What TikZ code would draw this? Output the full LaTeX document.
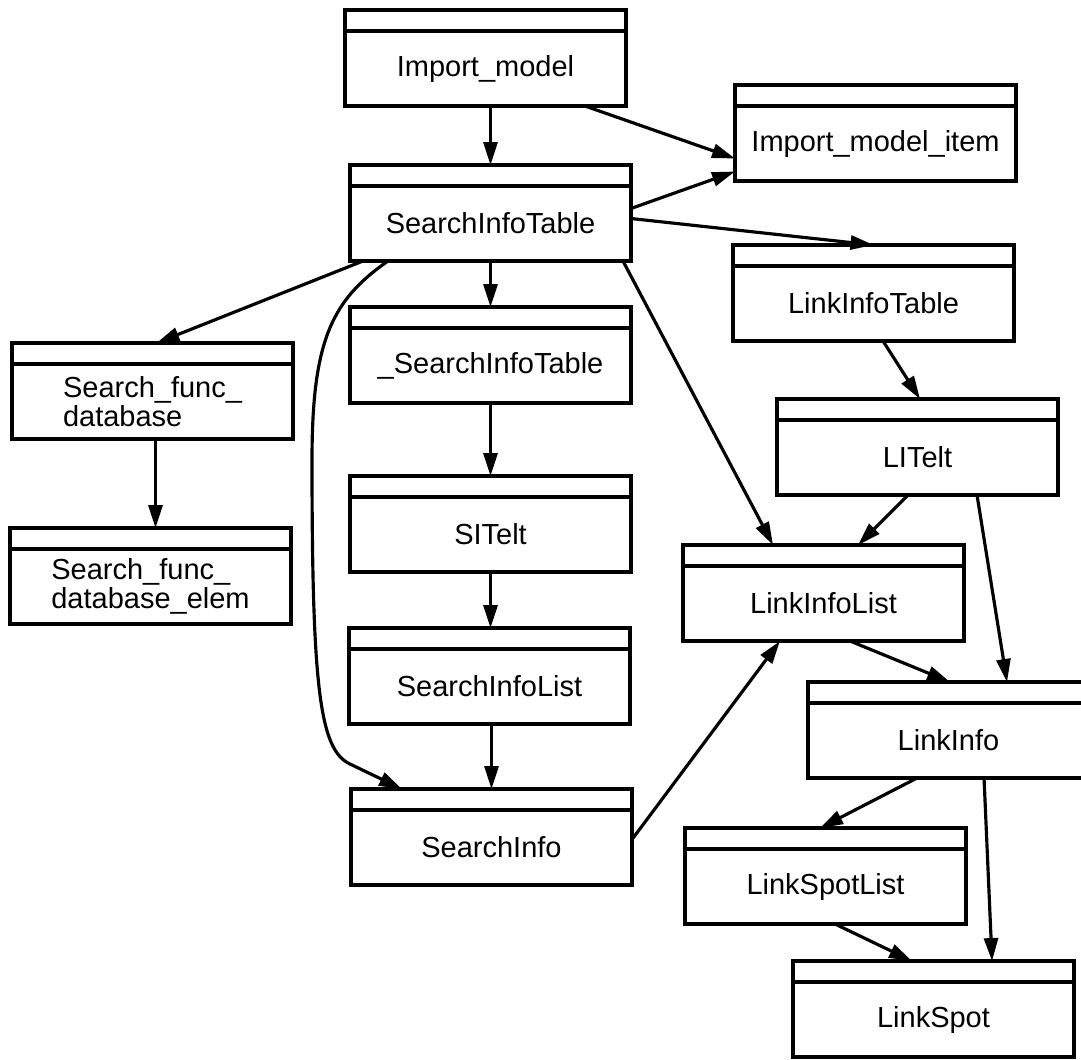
\documentclass[tikz,border=0pt]{standalone}
\usepackage{fontspec}
\setmainfont{Liberation Sans}
\usetikzlibrary{positioning,calc,arrows.meta}

\tikzset{
  cls/.style={draw, line width=2pt, minimum width=5.62cm, minimum height=1.5cm,
    inner sep=0pt, outer sep=0pt, align=center, font=\fontsize{16.5}{15}\selectfont},
  hdr/.style={draw, line width=2pt, minimum width=5.62cm, minimum height=0.42cm,
    inner sep=0pt, outer sep=0pt},
  arr/.style={line width=1.8pt, -{Triangle[length=0.46cm,width=0.28cm]}}
}

\begin{document}
\begin{tikzpicture}[x=0.02cm, y=-0.02cm]
\useasboundingbox (0,0) rectangle (1081,1059);
\clip (0,0) rectangle (1081,1059);

% class boxes
\node[cls] (imp) at (485.5,68.5) {Import\_model};
\node[hdr, above=0pt of imp] (imph) {};
\node[cls] (item) at (875.5,143.5) {Import\_model\_item};
\node[hdr, above=0pt of item] (itemh) {};
\node[cls] (sit) at (490.5,223.5) {SearchInfoTable};
\node[hdr, above=0pt of sit] (sith) {};
\node[cls] (lit) at (873.5,303.5) {LinkInfoTable};
\node[hdr, above=0pt of lit] (lith) {};
\node[cls, align=left] (sfd) at (152.5,401.5) {Search\_func\_\\database};
\node[hdr, above=0pt of sfd] (sfdh) {};
\node[cls] (usit) at (490.5,365.5) {\_SearchInfoTable};
\node[hdr, above=0pt of usit] (usith) {};
\node[cls] (litelt) at (917.5,457.5) {LITelt};
\node[hdr, above=0pt of litelt] (litelth) {};
\node[cls] (sitelt) at (490.5,534.5) {SITelt};
\node[hdr, above=0pt of sitelt] (sitelth) {};
\node[cls, align=left] (sfde) at (150.5,586.5) {Search\_func\_\\database\_elem};
\node[hdr, above=0pt of sfde] (sfdeh) {};
\node[cls] (lil) at (823.5,603.5) {LinkInfoList};
\node[hdr, above=0pt of lil] (lilh) {};
\node[cls] (sil) at (489.5,686.5) {SearchInfoList};
\node[hdr, above=0pt of sil] (silh) {};
\node[cls] (li) at (948.5,740.5) {LinkInfo};
\node[hdr, above=0pt of li] (lih) {};
\node[cls] (si) at (491.5,847.5) {SearchInfo};
\node[hdr, above=0pt of si] (sih) {};
\node[cls] (lsl) at (825.5,886.5) {LinkSpotList};
\node[hdr, above=0pt of lsl] (lslh) {};
\node[cls] (ls) at (933.5,1019.5) {LinkSpot};
\node[hdr, above=0pt of ls] (lsh) {};

% links
\draw[arr] (imp.south -| sith.north) -- (sith.north);
\draw[arr] ($(imp.south east)+(-41,0)$) -- ($(item.west)+(0,15)$);
\draw[arr] ($(sit.east)+(0,-15)$) -- ($(item.west)+(0,28)$);
\draw[arr] ($(sit.east)+(0,-5)$) -- (lith.north);
\draw[arr] ($(sit.south west)+(13,0)$) -- ($(sfdh.north)+(4,0)$);
\draw[arr] ($(sit.south west)+(38,0)$) .. controls (332,300) and (312,340) .. (312,460)
  .. controls (312,690) and (320,750) .. (350,764) -- ($(sih.north west)+(51,0)$);
\draw[arr] (sit.south) -- (usith.north);
\draw[arr] ($(sit.south east)+(-8,0)$) -- ($(lilh.north west)+(90,0)$);
\draw[arr] ($(lit.south)+(9.5,0)$) -- ($(litelth.north)+(2.5,0)$);
\draw[arr] (usit.south) -- (sitelth.north);
\draw[arr] (sitelt.south) -- (sitelt.south |- silh.north);
\draw[arr] (sil.south -| sih.north) -- (sih.north);
\draw[arr] ($(sfd.south)+(3,0)$) -- ($(sfd.south |- sfdeh.north)+(3,0)$);
\draw[arr] ($(litelt.south)+(-9.5,0)$) -- ($(lilh.north west)+(175,0)$);
\draw[arr] ($(litelt.south)+(59.5,0)$) -- ($(lih.north west)+(199,0)$);
\draw[arr] ($(lil.south)+(26.5,0)$) -- ($(lih.north west)+(142,0)$);
\draw[arr] ($(si.east)+(0,-8)$) -- ($(lil.south west)+(97,0)$);
\draw[arr] ($(li.south west)+(109,0)$) -- ($(lslh.north west)+(135,0)$);
\draw[arr] ($(li.south west)+(176,0)$) -- ($(lsh.north west)+(199,0)$);
\draw[arr] ($(lsl.south west)+(150,0)$) -- ($(lsh.north west)+(119,0)$);

\end{tikzpicture}
\end{document}
